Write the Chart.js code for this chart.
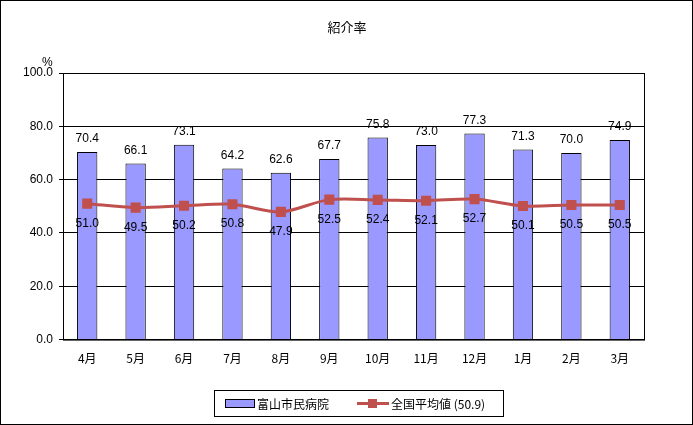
<!DOCTYPE html>
<html><head><meta charset="utf-8">
<script src="https://cdn.jsdelivr.net/npm/chart.js@4"></script>
<style>
body{margin:0;background:#fff;font-family:"Noto Sans CJK JP","DejaVu Sans",sans-serif;}
#wrap{position:relative;width:691px;height:423px;border:1px solid #000;}
#legend{position:absolute;left:213px;top:389px;width:288px;height:25px;border:1px solid #000;font-size:12px;display:flex;align-items:center;}
</style></head>
<body>
<div id="wrap">
<canvas id="c" width="691" height="423"></canvas>
<div id="legend">
 <span style="display:inline-block;width:28px;height:7px;background:#9999ff;border:1px solid #000;margin-left:10px"></span><span style="margin-left:2px">富山市民病院</span>
 <span style="position:relative;display:inline-block;width:32px;height:3px;background:#c0504d;margin-left:28px"><span style="position:absolute;left:11px;top:-3px;width:9px;height:9px;background:#c0504d"></span></span><span style="margin-left:2px">全国平均値 (50.9)</span>
</div>
</div>
<script>
const months=['4月','5月','6月','7月','8月','9月','10月','11月','12月','1月','2月','3月'];
const hospital=[70.4,66.1,73.1,64.2,62.6,67.7,75.8,73.0,77.3,71.3,70.0,74.9];
const national=[51.0,49.5,50.2,50.8,47.9,52.5,52.4,52.1,52.7,50.1,50.5,50.5];

const labelPlugin={
  id:'labels',
  afterDatasetsDraw(chart){
    const ctx=chart.ctx;
    ctx.save();
    ctx.font='12px "Liberation Sans", Arial, sans-serif';
    ctx.fillStyle='#000';
    ctx.textAlign='center';
    chart.getDatasetMeta(0).data.forEach((b,i)=>{
      ctx.textBaseline='bottom';
      ctx.fillText(hospital[i].toFixed(1),b.x,b.y-7);
    });
    chart.getDatasetMeta(1).data.forEach((p,i)=>{
      ctx.textBaseline='top';
      ctx.fillText(national[i].toFixed(1),p.x,p.y+14);
    });
    ctx.textAlign='left';ctx.textBaseline='alphabetic';
    ctx.fillText('%',41,65);
    ctx.font='13px "Noto Sans CJK JP", sans-serif';
    ctx.textAlign='center';
    ctx.fillText('紹介率',346,31);
    const a=chart.chartArea;
    ctx.strokeStyle='#000';ctx.lineWidth=1;
    ctx.strokeRect(a.left+0.5,a.top+0.5,a.right-a.left,a.bottom-a.top);
    ctx.restore();
  }
};

new Chart(document.getElementById('c'),{
  type:'bar',
  data:{labels:months,datasets:[
    {type:'bar',data:hospital,backgroundColor:'#9999ff',borderColor:'#000',borderWidth:1,barPercentage:0.42,categoryPercentage:1,order:2},
    {type:'line',data:national,borderColor:'#c0504d',backgroundColor:'#c0504d',borderWidth:3,tension:0.3,pointStyle:'rect',pointRadius:5,pointHoverRadius:5,order:1}
  ]},
  options:{
    responsive:false,animation:false,
    layout:{padding:{top:72,right:48,bottom:54,left:0}},
    plugins:{legend:{display:false},tooltip:{enabled:false}},
    scales:{
      x:{grid:{display:false},border:{color:'#000'},ticks:{color:'#000',font:{size:12,family:'"Noto Sans CJK JP", sans-serif'},padding:4}},
      y:{min:0,max:100,afterFit(s){s.width=62;},
        grid:{color:'#000',drawTicks:true,tickLength:4,tickColor:'#000'},border:{color:'#000'},
        ticks:{stepSize:20,color:'#000',font:{size:12,family:'"Liberation Sans", Arial, sans-serif'},padding:6,callback:v=>v.toFixed(1)}}
    }
  },
  plugins:[labelPlugin]
});
</script>
</body></html>
